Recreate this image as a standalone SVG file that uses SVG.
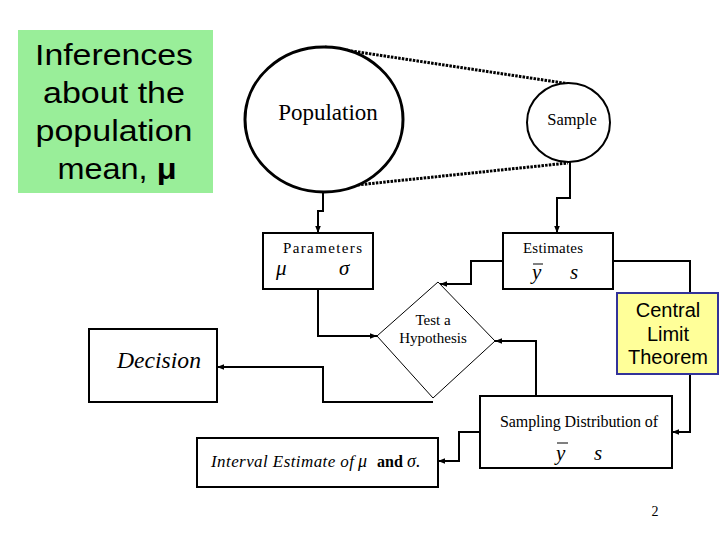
<svg xmlns="http://www.w3.org/2000/svg" width="720" height="540" viewBox="0 0 720 540">
<style>
.box{fill:#fff;stroke:#000;stroke-width:2}
.ln{fill:none;stroke:#000;stroke-width:2}
.dot{fill:none;stroke:#000;stroke-width:3;stroke-dasharray:2.5 1.2}
.ser{font-family:"Liberation Serif","Times New Roman",serif;fill:#000}
.san{font-family:"Liberation Sans",Arial,sans-serif;fill:#000}
.it{font-style:italic}
</style>
<defs>
<marker id="arr" viewBox="0 0 8 8" refX="8" refY="4" markerWidth="7" markerHeight="7" markerUnits="userSpaceOnUse" orient="auto">
<path d="M0,0.8 L8,4 L0,7.2z" fill="#000"/>
</marker>
</defs>
<rect width="720" height="540" fill="#fff"/>

<g id="title">
<rect x="18" y="30" width="195" height="163" fill="#99EE99"/>
<g class="san" font-size="29" text-anchor="middle">
<text x="114" y="65" textLength="158" lengthAdjust="spacingAndGlyphs">Inferences</text>
<text x="114" y="103" textLength="142" lengthAdjust="spacingAndGlyphs">about the</text>
<text x="114" y="141" textLength="157" lengthAdjust="spacingAndGlyphs">population</text>
<text x="117" y="179" textLength="119" lengthAdjust="spacingAndGlyphs">mean, <tspan font-weight="bold">μ</tspan></text>
</g>
</g>

<g id="connectors">
<line class="dot" x1="325" y1="47" x2="570" y2="84"/>
<line class="dot" x1="328" y1="188" x2="568" y2="163"/>
<path class="ln" d="M323,192 V211 H318 V233" marker-end="url(#arr)"/>
<path class="ln" d="M570,162 V198 H557 V233" marker-end="url(#arr)"/>
<path class="ln" d="M318,289 V336 H377" marker-end="url(#arr)"/>
<path class="ln" d="M503,261 H471 V284 H440" marker-end="url(#arr)"/>
<path class="ln" d="M613,261 H690 V293"/>
<path class="ln" d="M690,374 V432 H672" marker-end="url(#arr)"/>
<path class="ln" d="M536,396 V341 H495" marker-end="url(#arr)"/>
<path class="ln" d="M433,402 H323 V367 H217" marker-end="url(#arr)"/>
<path class="ln" d="M480,432 H459 V461 H438" marker-end="url(#arr)"/>
</g>

<g id="population">
<ellipse cx="324" cy="119.5" rx="79" ry="72.5" fill="#fff" stroke="#000" stroke-width="3"/>
<text class="ser" x="328" y="120" font-size="23" text-anchor="middle">Population</text>
</g>

<g id="sample">
<ellipse cx="568.5" cy="122.5" rx="41.5" ry="39.5" fill="#fff" stroke="#000" stroke-width="2"/>
<text class="ser" x="572" y="125" font-size="16.5" text-anchor="middle">Sample</text>
</g>

<g id="parameters">
<rect class="box" x="263" y="233" width="110" height="56"/>
<text class="ser" x="283" y="253" font-size="15" textLength="79" lengthAdjust="spacing">Parameters</text>
<text class="ser it" x="276" y="275" font-size="21">μ</text>
<text class="ser it" x="339" y="275" font-size="21">σ</text>
</g>

<g id="estimates">
<rect class="box" x="503" y="233" width="110" height="56"/>
<text class="ser" x="523" y="253" font-size="15" textLength="60" lengthAdjust="spacing">Estimates</text>
<line x1="533" y1="264" x2="543" y2="264" stroke="#000" stroke-width="1"/>
<text class="ser it" x="532" y="279" font-size="21">y</text>
<text class="ser it" x="570" y="279" font-size="21">s</text>
</g>

<g id="test">
<polygon points="438,282 495,341 433,398 377,336" fill="#fff" stroke="#000" stroke-width="1"/>
<text class="ser" x="433" y="325" font-size="15" text-anchor="middle">Test a</text>
<text class="ser" x="433" y="343" font-size="15" text-anchor="middle">Hypothesis</text>
</g>

<g id="decision">
<rect class="box" x="89" y="329" width="128" height="73"/>
<text class="ser it" x="117" y="368" font-size="23" textLength="84" lengthAdjust="spacingAndGlyphs">Decision</text>
</g>

<g id="clt">
<rect x="617" y="293" width="101" height="81" fill="#FFFF99" stroke="#333399" stroke-width="2"/>
<g class="san" font-size="20" text-anchor="middle">
<text x="668" y="317">Central</text>
<text x="668" y="341">Limit</text>
<text x="668" y="364">Theorem</text>
</g>
</g>

<g id="sampling">
<rect class="box" x="480" y="396" width="192" height="72"/>
<text class="ser" x="500" y="427" font-size="16" textLength="158" lengthAdjust="spacing">Sampling Distribution of</text>
<line x1="557" y1="443" x2="568" y2="443" stroke="#000" stroke-width="1"/>
<text class="ser it" x="556" y="460" font-size="21">y</text>
<text class="ser it" x="594" y="460" font-size="21">s</text>
</g>

<g id="interval">
<rect class="box" x="197" y="438" width="241" height="49"/>
<text class="ser" y="467" font-size="17"><tspan class="it" x="211" textLength="143" lengthAdjust="spacing">Interval Estimate of</tspan><tspan class="it" x="358" font-size="18">μ</tspan><tspan x="377" font-weight="bold" font-size="16">and</tspan><tspan class="it" x="407" font-size="18">σ.</tspan></text>
</g>

<text class="ser" x="655" y="516" font-size="14" text-anchor="middle">2</text>
</svg>
